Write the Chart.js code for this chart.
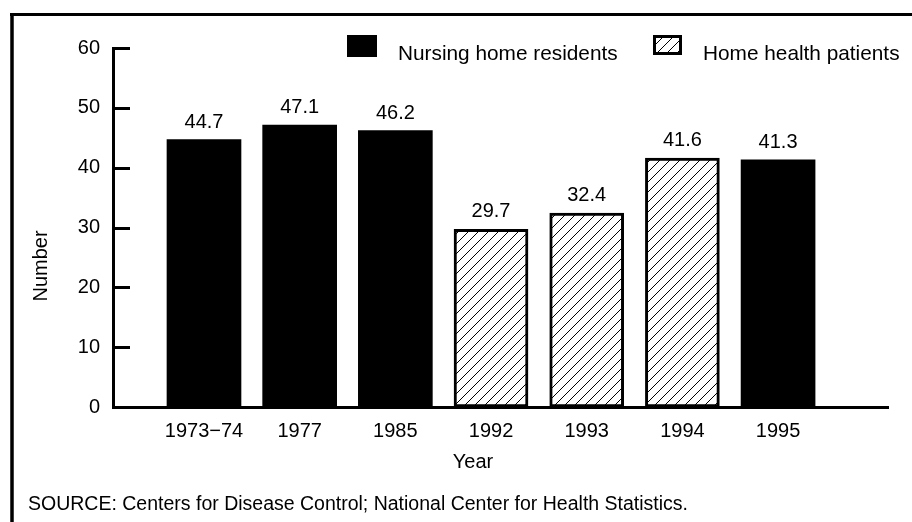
<!DOCTYPE html>
<html>
<head>
<meta charset="utf-8">
<script src="https://cdn.jsdelivr.net/npm/chart.js@4.4.1/dist/chart.umd.min.js"></script>
<style>
  html, body { margin: 0; padding: 0; background: #fff; }
  #wrap { width: 912px; height: 522px; }
</style>
</head>
<body>
<div id="wrap"><canvas id="chart" width="912" height="522"></canvas></div>
<script>
const years = ['1973\u221274', '1977', '1985', '1992', '1993', '1994', '1995'];
const nursingHome = [44.7, 47.1, 46.2, null, null, null, 41.3];
const homeHealth = [null, null, null, 29.7, 32.4, 41.6, null];
const seriesNames = ['Nursing home residents', 'Home health patients'];
const yTicks = [0, 10, 20, 30, 40, 50, 60];

const FONT = "'Liberation Sans', Arial, sans-serif";
Chart.defaults.color = '#000';
Chart.defaults.font.family = FONT;

// diagonal hatch used for the home health bars
function makeHatch() {
    const c = document.createElement('canvas');
    c.width = 10; c.height = 10;
    const g = c.getContext('2d');
    g.fillStyle = '#fff';
    g.fillRect(0, 0, 10, 10);
    g.strokeStyle = '#000';
    g.lineWidth = 1;
    g.beginPath();
    g.moveTo(0, 10); g.lineTo(10, 0);
    g.moveTo(-1, 1); g.lineTo(1, -1);
    g.moveTo(9, 11); g.lineTo(11, 9);
    g.stroke();
    return g.createPattern(c, 'repeat');
}
const ctx = document.getElementById('chart').getContext('2d');
const hatch = makeHatch();

function toPoints(arr) {
    return arr.map((v, i) => ({ x: i, y: v })).filter(p => p.y !== null);
}

const extras = {
    id: 'extras',
    beforeDraw(chart) {
        const c = chart.ctx;
        c.save();
        c.fillStyle = '#fff';
        c.fillRect(0, 0, chart.width, chart.height);
        // frame
        c.strokeStyle = '#000';
        c.lineWidth = 3;
        c.beginPath();
        c.moveTo(10, 14.5); c.lineTo(chart.width, 14.5);
        c.stroke();
        c.lineWidth = 3.5;
        c.beginPath();
        c.moveTo(12, 13); c.lineTo(12, chart.height);
        c.stroke();
        c.restore();
    },
    afterDraw(chart) {
        const c = chart.ctx;
        const area = chart.chartArea;
        const y = chart.scales.y;
        c.save();
        // inward tick marks on the y axis
        c.strokeStyle = '#000';
        c.lineWidth = 3;
        yTicks.forEach(t => {
            const py = Math.round(y.getPixelForValue(t)) + 0.5;
            c.beginPath();
            c.moveTo(area.left, py); c.lineTo(area.left + 17, py);
            c.stroke();
        });
        // value labels
        c.fillStyle = '#000';
        c.font = '20px ' + FONT;
        c.textAlign = 'center';
        c.textBaseline = 'alphabetic';
        chart.data.datasets.forEach((ds, di) => {
            chart.getDatasetMeta(di).data.forEach((el, i) => {
                c.fillText(ds.data[i].y.toFixed(1), el.x, el.y - 12);
            });
        });
        // axis titles and source
        c.fillText('Year', 473, 468);
        c.save();
        c.translate(47, 266);
        c.rotate(-Math.PI / 2);
        c.fillText('Number', 0, 0);
        c.restore();
        c.textAlign = 'left';
        c.font = '19.5px ' + FONT;
        c.fillText('SOURCE: Centers for Disease Control; National Center for Health Statistics.', 28, 510);
        // legend
        c.font = '20.8px ' + FONT;
        c.fillRect(347, 35, 30, 22);
        c.fillText(seriesNames[0], 398, 60);
        c.fillStyle = hatch;
        c.fillRect(653, 35, 29, 20);
        c.lineWidth = 3;
        c.strokeRect(654.5, 36.5, 26, 17);
        c.fillStyle = '#000';
        c.fillText(seriesNames[1], 703, 60);
        c.restore();
    }
};

new Chart(ctx, {
    type: 'bar',
    data: {
        datasets: [{
            label: seriesNames[0],
            data: toPoints(nursingHome),
            backgroundColor: '#000',
            borderColor: '#000',
            borderWidth: 0
        }, {
            label: seriesNames[1],
            data: toPoints(homeHealth),
            backgroundColor: hatch,
            borderColor: '#000',
            borderWidth: 3,
            borderSkipped: false
        }]
    },
    options: {
        responsive: false,
        animation: false,
        layout: { padding: { left: 0, top: 48, right: 24, bottom: 0 } },
        datasets: { bar: { grouped: false, barThickness: 74 } },
        plugins: { legend: { display: false }, tooltip: { enabled: false } },
        scales: {
            x: {
                type: 'linear',
                offset: false,
                min: -0.951,
                max: 7.149,
                grid: { display: false },
                border: { display: true, color: '#000', width: 3 },
                afterFit: s => { s.height = 115; },
                afterBuildTicks: s => { s.ticks = years.map((_, i) => ({ value: i })); },
                ticks: {
                    autoSkip: false,
                    maxRotation: 0,
                    padding: 4,
                    font: { size: 20 },
                    callback: v => years[v]
                }
            },
            y: {
                min: 0,
                max: 60,
                grid: { display: false },
                border: { display: true, color: '#000', width: 3 },
                afterFit: s => { s.width = 113; },
                afterBuildTicks: s => { s.ticks = yTicks.map(v => ({ value: v })); },
                ticks: { padding: 5, font: { size: 20 } }
            }
        }
    },
    plugins: [extras]
});
</script>
</body>
</html>
